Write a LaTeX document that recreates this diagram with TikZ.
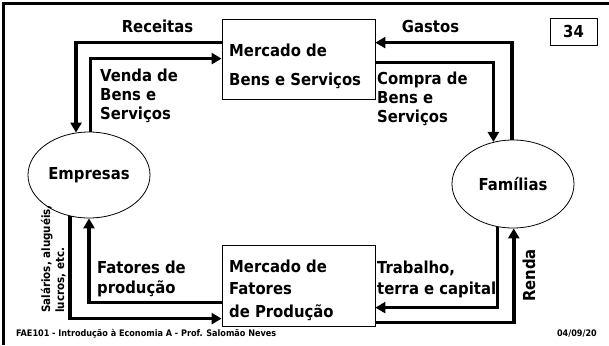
\documentclass[tikz,border=0pt]{standalone}
\usepackage{fontspec}
\setmainfont{DejaVu Sans}
\newfontfamily\lab{DejaVu Sans Condensed}
\usetikzlibrary{arrows.meta,shapes.geometric,calc}
\begin{document}
\begin{tikzpicture}[x=1pt,y=1pt,
  flow/.style={line width=3.5pt,-{Triangle[length=10pt,width=11pt]}},
  market/.style={draw,line width=0.8pt,minimum width=153pt,inner sep=0pt},
  agent/.style={draw,ellipse,line width=0.8pt,inner sep=0pt},
  txt/.style={font=\lab\bfseries\fontsize{16.5}{19}\selectfont,inner sep=0pt,align=left},
  small/.style={font=\lab\bfseries\fontsize{11.5}{14}\selectfont,inner sep=0pt,align=left}]
\useasboundingbox (0,0) rectangle (609,-345);
\fill[white] (0,0) rectangle (609,-345);
% frame
\draw[line width=3pt] (3.5,-345) -- (3.5,-3.5) -- (609,-3.5);
% nodes
\node[market,minimum height=80pt] (bens) at (298.5,-59) {};
\node[market,minimum height=81pt] (fat) at (298.5,-285.5) {};
\node[agent,minimum width=122pt,minimum height=86pt] (emp) at (89,-175) {};
\node[agent,minimum width=122pt,minimum height=88pt] (fam) at (513,-184) {};
\node[txt,anchor=center] (empt) at (emp.center) {Empresas};
\node[txt,anchor=center] (famt) at (fam.center) {Famílias};
\node[txt,anchor=base west,font=\lab\bfseries\fontsize{16.5}{29}\selectfont] (benst) at (229,-85) {Mercado de\\Bens e Serviços};
\node[txt,anchor=base west,font=\lab\bfseries\fontsize{16.5}{22.5}\selectfont] (fatt) at (229,-317) {Mercado de\\Fatores\\de Produção};
\node[draw,line width=0.8pt,minimum width=47pt,minimum height=27pt,font=\lab\bfseries\fontsize{16.5}{19}\selectfont] (pg) at (573.5,-31.5) {34};
% labels
\node[txt,anchor=base] (rec) at (157.5,-33) {Receitas};
\node[txt,anchor=base] (gas) at (430.5,-33) {Gastos};
\node[txt,anchor=base west] (ven) at (100,-119) {Venda de\\Bens e\\Serviços};
\node[txt,anchor=base west] (com) at (377,-122) {Compra de\\Bens e\\Serviços};
\node[txt,anchor=base west,font=\lab\bfseries\fontsize{16.5}{20}\selectfont] (fpr) at (97,-293) {Fatores de\\produção};
\node[txt,anchor=base west,font=\lab\bfseries\fontsize{16.5}{21}\selectfont] (tra) at (377,-294) {Trabalho,\\terra e capital};
\node[txt,rotate=90,anchor=base west] (ren) at (535,-302) {Renda};
\node[small,rotate=90,anchor=base west] (sal) at (64,-313) {Salários, aluguéis,\\lucros, etc.};
\node[font=\lab\bfseries\fontsize{9}{10}\selectfont,inner sep=0pt,anchor=base west] (foot) at (16,-336) {FAE101 - Introdução à Economia A - Prof. Salomão Neves};
\node[font=\lab\bfseries\fontsize{9}{10}\selectfont,inner sep=0pt,anchor=base east] (date) at (597,-336) {04/09/20};
% connectors
\draw[flow] ($(bens.north west)+(0,-24)$) -| (emp.107.2);
\draw[flow] (emp.88.7) |- ($(bens.north west)+(0,-40)$);
\draw[flow] (fam.91) |- ($(bens.north east)+(0,-24)$);
\draw[flow] ($(bens.north east)+(0,-44)$) -| (fam.115.7);
\draw[flow] ($(fat.north west)+(0,-58)$) -| (emp.south);
\draw[flow] (emp.245.1) |- ($(fat.north west)+(0,-74)$);
\draw[flow] (fam.250.6) |- ($(fat.north east)+(0,-63)$);
\draw[flow] ($(fat.north east)+(0,-78)$) -| (fam.271.3);
\end{tikzpicture}
\end{document}
